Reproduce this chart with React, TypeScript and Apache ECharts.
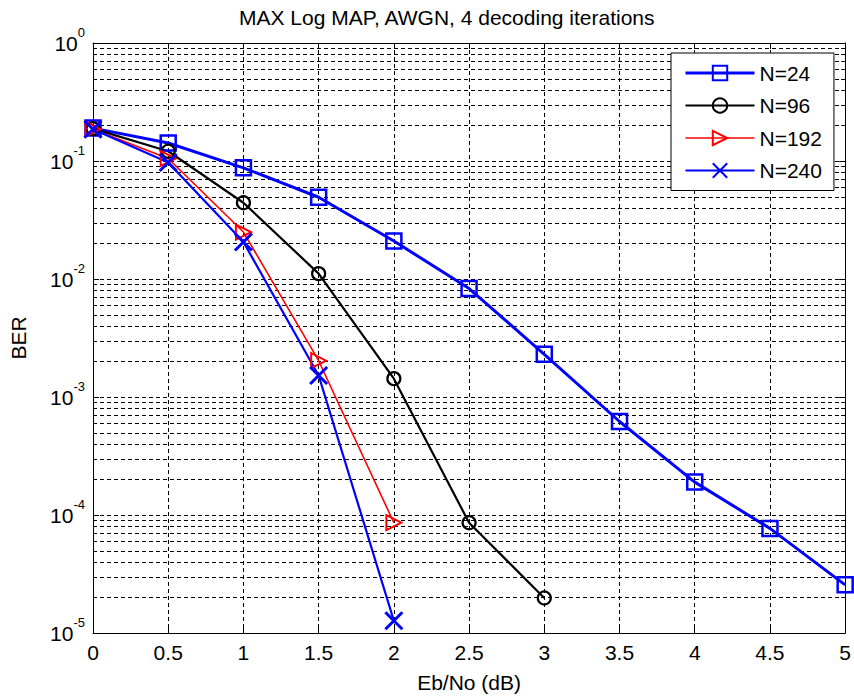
import React, { useEffect, useRef } from "react";
import * as echarts from "echarts";

const EBNO = [0, 0.5, 1, 1.5, 2, 2.5, 3, 3.5, 4, 4.5, 5];
const SERIES_NAMES = ["N=24", "N=96", "N=192", "N=240"];
const BER_N24 = [0.19, 0.142, 0.0875, 0.0493, 0.021, 0.0083, 0.0023, 0.00062, 0.00019, 7.7e-5, 2.56e-5];
const BER_N96 = [0.188, 0.121, 0.0443, 0.0111, 0.00143, 8.6e-5, 1.98e-5];
const BER_N192 = [0.186, 0.105, 0.025, 0.00203, 8.6e-5];
const BER_N240 = [0.186, 0.097, 0.0206, 0.00152, 1.27e-5];
const X_TICKS = [0, 0.5, 1, 1.5, 2, 2.5, 3, 3.5, 4, 4.5, 5];
const Y_DECADES = [-5, -4, -3, -2, -1];
const Y_MINOR_MULT = [2, 3, 4, 5, 6, 7, 8, 9];

const FONT = "'Liberation Sans', Arial, Helvetica, sans-serif";

function pairs(ys: number[]) {
  return ys.map((y, i) => [EBNO[i], y]);
}

export default function App() {
  const ref = useRef<HTMLDivElement>(null);
  useEffect(() => {
    if (!ref.current) return;
    const chart = echarts.init(ref.current, undefined, { renderer: "svg" });
    const minorVals: number[] = [];
    Y_DECADES.forEach((e) => Y_MINOR_MULT.forEach((m) => minorVals.push(m * Math.pow(10, e))));
    const gridDash = { color: "#000", width: 1, type: [4, 3] as any };
    const xMin = X_TICKS[0];
    const xMax = X_TICKS[X_TICKS.length - 1];
    const yLabelFmt = (v: number) => {
      const e = Math.round(Math.log10(v));
      return `{b|10}{s|${e}}`;
    };
    const option: any = {
      animation: false,
      backgroundColor: "#fff",
      textStyle: { fontFamily: FONT },
      title: {
        text: "MAX Log MAP, AWGN, 4 decoding iterations",
        left: 239,
        top: 7,
        padding: 0,
        textStyle: { fontFamily: FONT, fontSize: 21, fontWeight: "normal", color: "#000" },
      },
      legend: {
        orient: "vertical",
        left: 671,
        top: 53,
        padding: [8, 12, 8, 13],
        itemWidth: 69,
        itemHeight: 18,
        itemGap: 8.5,
        itemTextGap: 10,
        backgroundColor: "#fff",
        borderColor: "#000",
        borderWidth: 1,
        borderRadius: 0,
        lineStyle: { width: "inherit" },
        data: SERIES_NAMES,
        textStyle: { fontFamily: FONT, fontSize: 21, color: "#000", lineHeight: 24 },
      },
      grid: { left: 93, top: 43, width: 755, height: 592, show: false },
      xAxis: [
        {
          type: "value",
          min: xMin,
          max: xMax,
          interval: 0.5,
          name: "Eb/No (dB)",
          nameLocation: "middle",
          nameGap: 39,
          nameTextStyle: { fontFamily: FONT, fontSize: 21, color: "#000" },
          axisLine: { show: true, lineStyle: { color: "#000", width: 1 } },
          axisTick: { show: true, inside: true, length: 6, lineStyle: { color: "#000" } },
          axisLabel: { margin: 9, fontFamily: FONT, fontSize: 21, color: "#000", formatter: (v: number) => String(v) },
          splitLine: { show: true, lineStyle: gridDash },
        },
        {
          type: "value",
          position: "top",
          min: xMin,
          max: xMax,
          interval: 0.5,
          axisLine: { show: true, onZero: false, lineStyle: { color: "#000", width: 1 } },
          axisTick: { show: true, inside: true, length: 6, lineStyle: { color: "#000" } },
          axisLabel: { show: false },
          splitLine: { show: false },
        },
      ],
      yAxis: [
        {
          type: "log",
          logBase: 10,
          min: 1e-5,
          max: 1,
          interval: 1,
          name: "BER",
          nameLocation: "middle",
          nameRotate: 90,
          nameGap: 64,
          nameTextStyle: { fontFamily: FONT, fontSize: 21, color: "#000" },
          axisLine: { show: true, lineStyle: { color: "#000", width: 1 } },
          axisTick: { show: true, inside: true, length: 6, lineStyle: { color: "#000" } },
          axisLabel: {
            margin: 8,
            formatter: yLabelFmt,
            rich: {
              b: { fontFamily: FONT, fontSize: 21, color: "#000" },
              s: { fontFamily: FONT, fontSize: 13, color: "#000", padding: [0, 0, 22, 0] },
            },
          },
          splitLine: { show: true, lineStyle: gridDash },
        },
        {
          type: "log",
          logBase: 10,
          min: 1e-5,
          max: 1,
          interval: 1,
          position: "right",
          axisLine: { show: true, onZero: false, lineStyle: { color: "#000", width: 1 } },
          axisTick: { show: true, inside: true, length: 6, lineStyle: { color: "#000" } },
          axisLabel: { show: false },
          splitLine: { show: false },
        },
      ],
      series: [
        {
          type: "custom",
          name: "_minorgrid",
          data: minorVals.map((v) => [xMin, v]),
          encode: { x: 0, y: 1 },
          z: 1,
          silent: true,
          clip: false,
          renderItem: (params: any, api: any) => {
            const v = api.value(1);
            const p0 = api.coord([xMin, v]);
            const p1 = api.coord([xMax, v]);
            const y = Math.round(p0[1]) + 0.5;
            return {
              type: "group",
              children: [
                {
                  type: "line",
                  shape: { x1: p0[0], y1: y, x2: p1[0], y2: y },
                  style: { stroke: "#000", lineWidth: 1, lineDash: [4, 3] },
                },
                {
                  type: "line",
                  shape: { x1: p0[0], y1: y, x2: p0[0] + 4, y2: y },
                  style: { stroke: "#000", lineWidth: 1 },
                },
                {
                  type: "line",
                  shape: { x1: p1[0] - 4, y1: y, x2: p1[0], y2: y },
                  style: { stroke: "#000", lineWidth: 1 },
                },
              ],
            };
          },
        },
        {
          type: "line",
          name: SERIES_NAMES[0],
          data: pairs(BER_N24),
          z: 3,
          symbol: "rect",
          symbolSize: 15,
          lineStyle: { color: "#0000ff", width: 3 },
          itemStyle: { color: "rgba(0,0,0,0)", borderColor: "#0000ff", borderWidth: 2.5 },
        },
        {
          type: "line",
          name: SERIES_NAMES[1],
          data: pairs(BER_N96),
          z: 3,
          symbol: "circle",
          symbolSize: 13,
          lineStyle: { color: "#000", width: 2.2 },
          itemStyle: { color: "rgba(0,0,0,0)", borderColor: "#000", borderWidth: 2.2 },
        },
        {
          type: "line",
          name: SERIES_NAMES[2],
          data: pairs(BER_N192),
          z: 3,
          symbol: "triangle",
          symbolRotate: -90,
          symbolSize: 15,
          lineStyle: { color: "#ff0000", width: 1.6 },
          itemStyle: { color: "rgba(0,0,0,0)", borderColor: "#ff0000", borderWidth: 2 },
        },
        {
          type: "line",
          name: SERIES_NAMES[3],
          data: pairs(BER_N240),
          z: 3,
          symbol: "path://M0,0L10,10M10,0L0,10",
          symbolKeepAspect: true,
          symbolSize: 17,
          lineStyle: { color: "#0000ff", width: 2.2 },
          itemStyle: { color: "rgba(0,0,0,0)", borderColor: "#0000ff", borderWidth: 3 },
        },
      ],
    };
    chart.setOption(option);
    return () => chart.dispose();
  }, []);
  return (
    <div
      ref={ref}
      style={{ position: "fixed", left: 0, top: 0, width: 854, height: 698, background: "#fff" }}
    />
  );
}
